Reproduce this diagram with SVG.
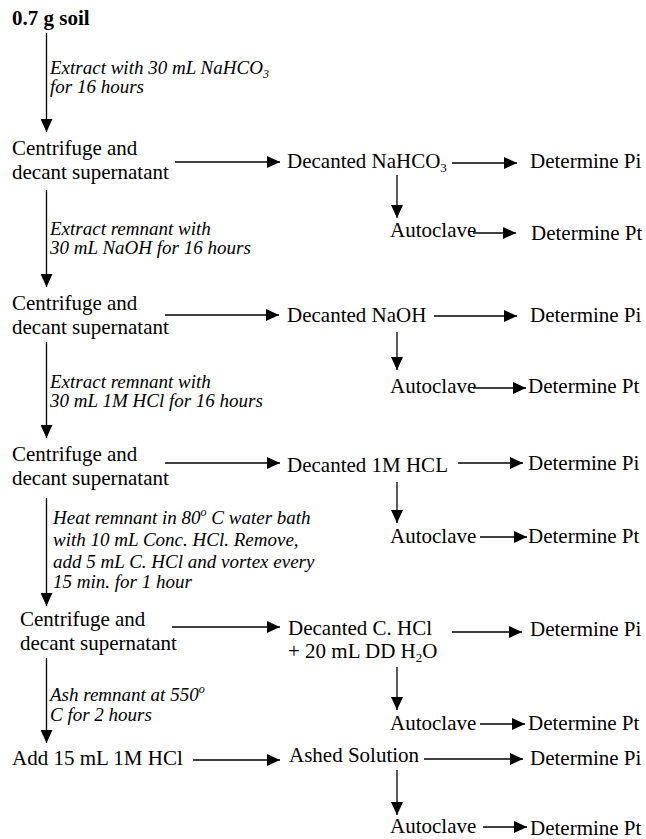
<svg xmlns="http://www.w3.org/2000/svg" width="646" height="839" viewBox="0 0 646 839">
<style>
text{font-family:"Liberation Serif","Times New Roman",serif;fill:#000}
.n{font-size:21px}
.b{font-size:21px;font-weight:bold}
.i{font-size:19px;font-style:italic}
.c line{stroke:#000;stroke-width:1.3;marker-end:url(#ah)}
</style>
<defs>
<marker id="ah" viewBox="0 0 13 12" markerWidth="13" markerHeight="12" refX="13" refY="6" orient="auto" markerUnits="userSpaceOnUse">
<path d="M0,0 L13,6 L0,12 z" fill="#000"/>
</marker>
</defs>
<rect width="646" height="839" fill="#fff"/>

<g id="soil"><text class="b" x="12" y="25">0.7 g soil</text></g>

<g id="step1-label"><text class="i" x="50" y="74">Extract with 30 mL NaHCO<tspan font-size="12" dy="4">3</tspan></text><text class="i" x="50" y="93">for 16 hours</text></g>
<g id="centrifuge1"><text class="n" x="12" y="155">Centrifuge and</text><text class="n" x="12" y="179">decant supernatant</text></g>
<g id="step2-label"><text class="i" x="50" y="235">Extract remnant with</text><text class="i" x="50" y="254">30 mL NaOH for 16 hours</text></g>
<g id="centrifuge2"><text class="n" x="12" y="310">Centrifuge and</text><text class="n" x="12" y="334">decant supernatant</text></g>
<g id="step3-label"><text class="i" x="50" y="388">Extract remnant with</text><text class="i" x="50" y="407">30 mL 1M HCl for 16 hours</text></g>
<g id="centrifuge3"><text class="n" x="12" y="461">Centrifuge and</text><text class="n" x="12" y="485">decant supernatant</text></g>
<g id="step4-label">
<text class="i" x="53" y="524">Heat remnant in 80<tspan font-size="12" dy="-8">o</tspan><tspan dy="8"> C water bath</tspan></text>
<text class="i" x="53" y="546">with 10 mL Conc. HCl. Remove,</text>
<text class="i" x="53" y="568">add 5 mL C. HCl and vortex every</text>
<text class="i" x="53" y="588">15 min. for 1 hour</text>
</g>
<g id="centrifuge4"><text class="n" x="20" y="626">Centrifuge and</text><text class="n" x="20" y="650">decant supernatant</text></g>
<g id="step5-label"><text class="i" x="50" y="701">Ash remnant at 550<tspan font-size="12" dy="-8">o</tspan></text><text class="i" x="50" y="721">C for 2 hours</text></g>
<g id="add-hcl"><text class="n" x="12" y="765">Add 15 mL 1M HCl</text></g>

<g id="decanted-nahco3"><text class="n" x="287" y="168">Decanted NaHCO<tspan font-size="13" dy="4">3</tspan></text></g>
<g id="pi1"><text class="n" x="530" y="168">Determine Pi</text></g>
<g id="autoclave1"><text class="n" x="390" y="237">Autoclave</text></g>
<g id="pt1"><text class="n" x="531" y="240">Determine Pt</text></g>

<g id="decanted-naoh"><text class="n" x="287" y="322">Decanted NaOH</text></g>
<g id="pi2"><text class="n" x="530" y="322">Determine Pi</text></g>
<g id="autoclave2"><text class="n" x="390" y="393">Autoclave</text></g>
<g id="pt2"><text class="n" x="528" y="393">Determine Pt</text></g>

<g id="decanted-1mhcl"><text class="n" x="287" y="472">Decanted 1M HCL</text></g>
<g id="pi3"><text class="n" x="528" y="470">Determine Pi</text></g>
<g id="autoclave3"><text class="n" x="390" y="543">Autoclave</text></g>
<g id="pt3"><text class="n" x="528" y="543">Determine Pt</text></g>

<g id="decanted-chcl"><text class="n" x="288" y="635">Decanted C. HCl</text><text class="n" x="288" y="658">+ 20 mL DD H<tspan font-size="13" dy="4">2</tspan><tspan dy="-4">O</tspan></text></g>
<g id="pi4"><text class="n" x="530" y="636">Determine Pi</text></g>
<g id="autoclave4"><text class="n" x="390" y="730">Autoclave</text></g>
<g id="pt4"><text class="n" x="528" y="730">Determine Pt</text></g>

<g id="ashed"><text class="n" x="289" y="762">Ashed Solution</text></g>
<g id="pi5"><text class="n" x="530" y="765">Determine Pi</text></g>
<g id="autoclave5"><text class="n" x="390" y="833">Autoclave</text></g>
<g id="pt5"><text class="n" x="530" y="835">Determine Pt</text></g>

<g id="connectors" class="c">
<line x1="46.5" y1="33" x2="46.5" y2="132"/>
<line x1="46.5" y1="190" x2="46.5" y2="287"/>
<line x1="46.5" y1="342" x2="46.5" y2="438"/>
<line x1="46.5" y1="498" x2="46.5" y2="606"/>
<line x1="46.5" y1="658" x2="46.5" y2="743"/>

<line x1="175" y1="162" x2="280" y2="162"/>
<line x1="165" y1="315" x2="279" y2="315"/>
<line x1="165" y1="463" x2="280" y2="463"/>
<line x1="172" y1="627" x2="280" y2="627"/>
<line x1="193" y1="760" x2="280" y2="760"/>

<line x1="452" y1="163" x2="517" y2="163"/>
<line x1="397" y1="175" x2="397" y2="218"/>
<line x1="473" y1="233" x2="516" y2="233"/>

<line x1="434" y1="316" x2="517" y2="316"/>
<line x1="397" y1="332" x2="397" y2="370"/>
<line x1="473" y1="388" x2="526" y2="388"/>

<line x1="458" y1="463" x2="523" y2="463"/>
<line x1="397" y1="482" x2="397" y2="523"/>
<line x1="480" y1="537" x2="527" y2="537"/>

<line x1="452" y1="632" x2="522" y2="632"/>
<line x1="397" y1="667" x2="397" y2="710"/>
<line x1="480" y1="724" x2="525" y2="724"/>

<line x1="424" y1="759" x2="523" y2="759"/>
<line x1="397" y1="770" x2="397" y2="815"/>
<line x1="483" y1="827" x2="527" y2="827"/>
</g>
</svg>
